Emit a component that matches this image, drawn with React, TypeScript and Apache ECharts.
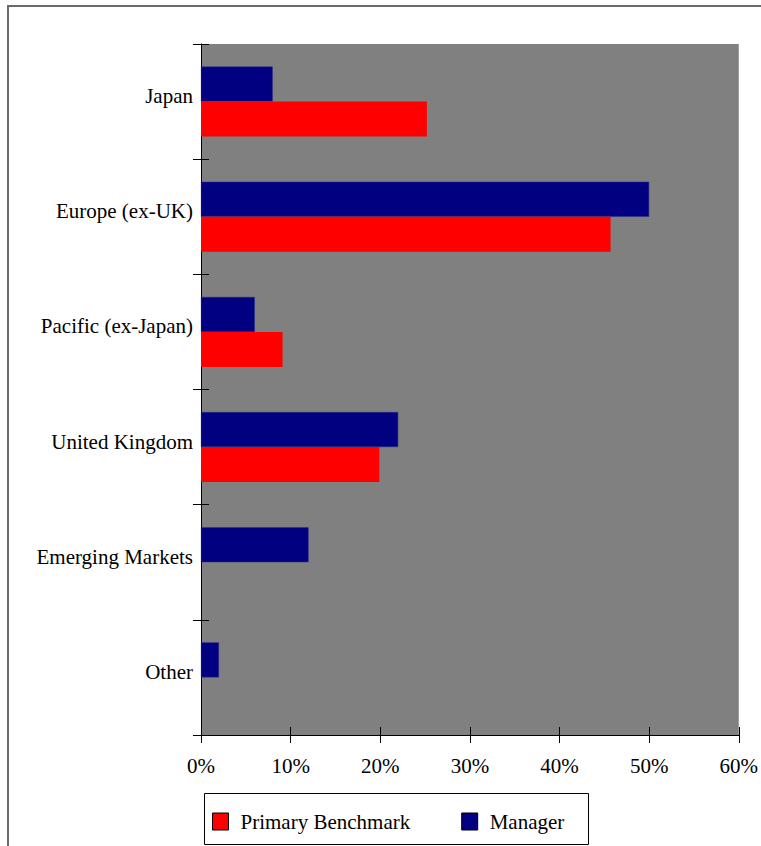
import React, { useEffect, useRef } from "react";
import * as echarts from "echarts";

const categories = [
  "Japan",
  "Europe (ex-UK)",
  "Pacific (ex-Japan)",
  "United Kingdom",
  "Emerging Markets",
  "Other",
];
const benchmarkValues = [25.2, 45.7, 9.1, 19.9, 0, 0];
const managerValues = [8.0, 50.0, 6.0, 22.0, 12.0, 2.0];
const xMin = 0;
const xMax = 60;
const xInterval = 10;
const seriesNames = ["Primary Benchmark", "Manager"];

const FONT = "Liberation Serif";

export default function App() {
  const ref = useRef<HTMLDivElement>(null);

  useEffect(() => {
    if (!ref.current) return;
    const chart = echarts.init(ref.current, null, { renderer: "svg" });
    const tickStyle = { color: "#000", width: 1 };
    chart.setOption({
      animation: false,
      backgroundColor: "#fff",
      textStyle: { fontFamily: FONT, color: "#000" },
      grid: {
        left: 201,
        top: 44,
        width: 538,
        height: 691,
        show: true,
        backgroundColor: "#808080",
        borderWidth: 0,
        containLabel: false,
      },
      xAxis: [
        {
          type: "value",
          min: xMin,
          max: xMax,
          interval: xInterval,
          position: "bottom",
          axisLine: { show: true, lineStyle: { color: "#000", width: 1 } },
          axisTick: { show: true, inside: false, length: 8, lineStyle: tickStyle },
          splitLine: { show: false },
          axisLabel: {
            formatter: "{value}%",
            fontFamily: FONT,
            fontSize: 21,
            color: "#000",
            margin: 20,
          },
        },
        {
          type: "value",
          min: xMin,
          max: xMax,
          interval: xInterval,
          position: "bottom",
          axisLine: { show: false },
          axisTick: { show: true, inside: true, length: 8, lineStyle: tickStyle },
          splitLine: { show: false },
          axisLabel: { show: false },
        },
      ],
      yAxis: [
        {
          type: "category",
          data: categories,
          inverse: true,
          position: "left",
          axisLine: { show: true, lineStyle: { color: "#000", width: 1 } },
          axisTick: { show: true, inside: false, length: 8, lineStyle: tickStyle },
          axisLabel: {
            fontFamily: FONT,
            fontSize: 21,
            color: "#000",
            margin: 8,
            verticalAlign: "bottom",
            lineHeight: 11,
          },
        },
        {
          type: "category",
          data: categories,
          inverse: true,
          position: "left",
          axisLine: { show: false },
          axisTick: { show: true, inside: true, length: 8, lineStyle: tickStyle },
          axisLabel: { show: false },
        },
      ],
      legend: {
        data: seriesNames,
        left: 212,
        top: 811,
        padding: 0,
        orient: "horizontal",
        itemWidth: 16,
        itemHeight: 17,
        itemGap: 51,
        icon: "rect",
        selectedMode: false,
        itemStyle: { borderColor: "#000", borderWidth: 1 },
        textStyle: {
          fontFamily: FONT,
          fontSize: 21,
          color: "#000",
          padding: [0, 0, 0, 7],
        },
      },
      graphic: [
        {
          type: "rect",
          shape: { x: 8, y: 6, width: 800, height: 900 },
          style: { fill: "none", stroke: "#6a6a6a", lineWidth: 2 },
          silent: true,
          z: 0,
        },
        {
          type: "rect",
          shape: { x: 204.5, y: 793.5, width: 384, height: 51 },
          style: { fill: "none", stroke: "#000", lineWidth: 1 },
          silent: true,
          z: 0,
        },
      ],
      series: [
        {
          name: seriesNames[1],
          type: "bar",
          data: managerValues,
          barWidth: 35,
          barGap: "0%",
          itemStyle: { color: "#000080", borderColor: "#2a2a8a", borderWidth: 0.5 },
          xAxisIndex: 0,
          yAxisIndex: 0,
        },
        {
          name: seriesNames[0],
          type: "bar",
          data: benchmarkValues,
          barWidth: 35,
          barGap: "0%",
          itemStyle: { color: "#ff0000" },
          xAxisIndex: 0,
          yAxisIndex: 0,
        },
      ],
    });
    return () => chart.dispose();
  }, []);

  return (
    <div
      ref={ref}
      style={{ position: "absolute", left: 0, top: 0, width: 761, height: 846 }}
    />
  );
}
